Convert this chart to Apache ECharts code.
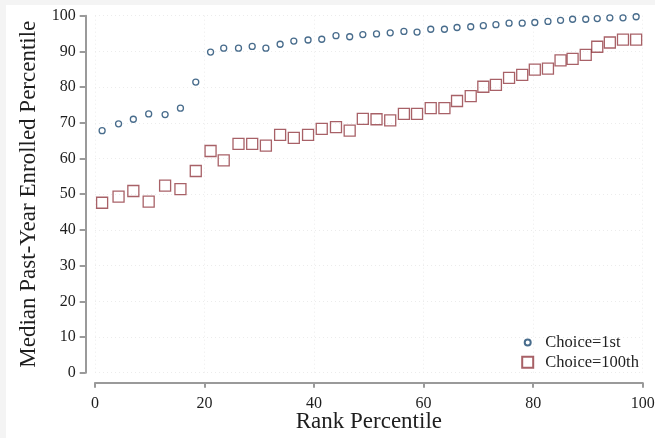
<!DOCTYPE html>
<html>
<head>
<meta charset="utf-8">
<script src="https://cdn.jsdelivr.net/npm/echarts@6/dist/echarts.min.js"></script>
<style>
  html, body { margin: 0; padding: 0; background: #ffffff; }
  #chart { width: 655px; height: 438px; background: #ffffff; box-shadow: inset 6px 5px 0 #f4f4f4; }
</style>
</head>
<body>
<div id="chart"></div>
<script>
// ---- data ----
const rankPercentile = [1.3, 4.3, 7.0, 9.8, 12.8, 15.6, 18.4, 21.1, 23.5, 26.2,
  28.7, 31.2, 33.8, 36.3, 38.9, 41.4, 44.0, 46.5, 48.9, 51.4,
  53.9, 56.4, 58.8, 61.3, 63.8, 66.1, 68.6, 70.9, 73.2, 75.6,
  78.0, 80.3, 82.7, 85.0, 87.2, 89.6, 91.7, 94.0, 96.4, 98.8];
const choice1st = [67.8, 69.7, 71.0, 72.5, 72.3, 74.1, 81.4, 89.8, 90.9, 90.9,
  91.4, 90.9, 92.0, 92.9, 93.2, 93.4, 94.4, 94.1, 94.7, 94.9,
  95.2, 95.6, 95.4, 96.2, 96.2, 96.7, 96.9, 97.2, 97.5, 97.9,
  97.9, 98.1, 98.4, 98.7, 99.0, 99.0, 99.2, 99.4, 99.4, 99.7];
const choice100th = [47.6, 49.3, 50.9, 47.9, 52.4, 51.4, 56.5, 62.1, 59.5, 64.1,
  64.1, 63.6, 66.6, 65.8, 66.6, 68.3, 68.8, 67.8, 71.1, 71.0,
  70.7, 72.5, 72.5, 74.1, 74.1, 76.1, 77.5, 80.1, 80.6, 82.6,
  83.4, 84.9, 85.2, 87.5, 87.9, 89.0, 91.3, 92.5, 93.3, 93.3];
const seriesNames = ['Choice=1st', 'Choice=100th'];
const xTitle = 'Rank Percentile';
const yTitle = 'Median Past-Year Enrolled Percentile';

const FONT = '"Liberation Serif", "DejaVu Serif", serif';
const AXIS_COLOR = '#9a9a9a';
const TEXT_COLOR = '#1e1e1e';
const NAVY = '#1a476f';
const MAROON = '#923a41';

const pair = (ys) => ys.map((y, i) => [rankPercentile[i], y]);

const chart = echarts.init(document.getElementById('chart'), null, { renderer: 'canvas' });
chart.setOption({
  backgroundColor: 'transparent',
  animation: false,
  grid: { left: 95, right: 12.3, top: 15.7, bottom: 65.3, containLabel: false, outerBoundsMode: 'none' },
  xAxis: {
    type: 'value', min: 0, max: 100, interval: 20,
    offset: 10,
    name: xTitle, nameLocation: 'middle', nameGap: 28, nameMoveOverlap: false,
    nameTextStyle: { fontFamily: FONT, fontSize: 23, color: TEXT_COLOR },
    axisLine: { show: true, onZero: false, lineStyle: { color: AXIS_COLOR, width: 2 } },
    axisTick: { show: true, length: 5, lineStyle: { color: AXIS_COLOR, width: 2 } },
    axisLabel: { margin: 13, fontFamily: FONT, fontSize: 16, color: TEXT_COLOR },
    splitLine: { show: true, lineStyle: { color: '#ececec', width: 1, type: [1, 3] } }
  },
  yAxis: {
    type: 'value', min: 0, max: 100, interval: 10,
    offset: 9.3,
    name: yTitle, nameLocation: 'middle', nameGap: 35,
    nameTextStyle: { fontFamily: FONT, fontSize: 23, color: TEXT_COLOR },
    axisLine: { show: true, onZero: false, lineStyle: { color: AXIS_COLOR, width: 2 } },
    axisTick: { show: true, length: 6, lineStyle: { color: AXIS_COLOR, width: 2 } },
    axisLabel: { margin: 10, fontFamily: FONT, fontSize: 16, color: TEXT_COLOR },
    splitLine: { show: true, lineStyle: { color: '#ececec', width: 1, type: [1, 3] } }
  },
  legend: [
    {
      data: [seriesNames[0]], left: 523.7, top: 334, orient: 'vertical', padding: 0,
      itemWidth: 6, itemHeight: 6,
      textStyle: { fontFamily: FONT, fontSize: 16.5, color: TEXT_COLOR, padding: [0, 0, 0, 9.6] }
    },
    {
      data: [seriesNames[1]], left: 521.2, top: 353.8, orient: 'vertical', padding: 0,
      itemWidth: 11, itemHeight: 11,
      textStyle: { fontFamily: FONT, fontSize: 16.5, color: TEXT_COLOR, padding: [0, 0, 0, 7.1] }
    }
  ],
  series: [
    {
      name: seriesNames[0], type: 'scatter', symbol: 'circle', symbolSize: 6,
      itemStyle: { color: 'rgba(255,255,255,0)', borderColor: NAVY, borderWidth: 1.3 },
      data: pair(choice1st)
    },
    {
      name: seriesNames[1], type: 'scatter', symbol: 'rect', symbolSize: 11,
      itemStyle: { color: 'rgba(255,255,255,0)', borderColor: MAROON, borderWidth: 1.3 },
      data: pair(choice100th)
    }
  ]
});
</script>
</body>
</html>
